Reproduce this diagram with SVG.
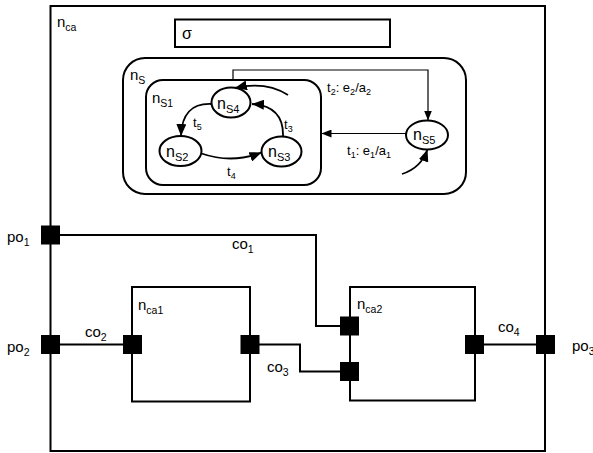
<svg xmlns="http://www.w3.org/2000/svg" width="593" height="453" viewBox="0 0 593 453">
<defs>
<style>
text{font-family:"Liberation Sans",Arial,sans-serif;font-size:15px;fill:#000}
.s{font-size:10.5px}
.sn{font-size:16px}
.sn .s{font-size:11px}
.tl{font-size:13px}
.tl .s{font-size:9px}
.box{fill:none;stroke:#000;stroke-width:2}
.st{fill:#fff;stroke:#000;stroke-width:2}
.port{fill:#000}
.con{fill:none;stroke:#000;stroke-width:2}
.thin{fill:none;stroke:#000;stroke-width:1.2}
.arc{fill:none;stroke:#000;stroke-width:1.8}
</style>
<marker id="ah" viewBox="0 0 12 10" refX="12" refY="5" markerWidth="12" markerHeight="10" markerUnits="userSpaceOnUse" orient="auto">
<path d="M0,0 L12,5 L0,10 Z" fill="#000"/>
</marker>
<marker id="ahs" viewBox="0 0 10 8" refX="10" refY="4" markerWidth="10" markerHeight="8" markerUnits="userSpaceOnUse" orient="auto">
<path d="M0,0 L10,4 L0,8 Z" fill="#000"/>
</marker>
</defs>

<g id="nca">
<rect class="box" x="50.5" y="6" width="494.5" height="445"/>
<text x="57" y="27">n<tspan class="s" dy="4">ca</tspan></text>
</g>

<g id="sigma">
<rect class="box" x="175" y="19.5" width="215" height="27.5"/>
<text x="182" y="39" style="font-size:16px">σ</text>
</g>

<g id="nS">
<rect class="box" x="123" y="58" width="343" height="136" rx="22" ry="22"/>
<text x="130" y="80">n<tspan class="s" dy="4">S</tspan></text>
</g>

<g id="nS1">
<rect class="box" x="146" y="80" width="175" height="105" rx="17" ry="17"/>
<text x="152" y="103">n<tspan class="s" dy="4">S1</tspan></text>
</g>

<g id="nS4">
<ellipse class="st" cx="231" cy="102.5" rx="19.5" ry="15"/>
<text class="sn" x="217" y="109">n<tspan class="s" dy="4">S4</tspan></text>
</g>
<g id="nS2">
<ellipse class="st" cx="180.5" cy="151" rx="21" ry="15"/>
<text class="sn" x="166" y="156.5">n<tspan class="s" dy="4.5">S2</tspan></text>
</g>
<g id="nS3">
<ellipse class="st" cx="281.5" cy="151.5" rx="20" ry="15"/>
<text class="sn" x="268" y="156.5">n<tspan class="s" dy="4.5">S3</tspan></text>
</g>
<g id="nS5">
<ellipse class="st" cx="427" cy="135" rx="21" ry="14.5"/>
<text class="sn" x="413" y="139.5">n<tspan class="s" dy="4.5">S5</tspan></text>
</g>

<g id="nca1">
<rect class="box" x="132" y="287" width="118" height="114.5"/>
<text x="138" y="310">n<tspan class="s" dy="4">ca1</tspan></text>
<rect class="port" x="123" y="335" width="19" height="19"/>
<rect class="port" x="240.5" y="335" width="19" height="19"/>
</g>

<g id="nca2">
<rect class="box" x="350" y="287" width="125" height="113.5"/>
<text x="357" y="309">n<tspan class="s" dy="4">ca2</tspan></text>
<rect class="port" x="340" y="316.5" width="19" height="19"/>
<rect class="port" x="340" y="362" width="19" height="19"/>
<rect class="port" x="465" y="335" width="19" height="19"/>
</g>

<g id="po1">
<rect class="port" x="41" y="225.5" width="19" height="19"/>
<text x="7" y="242">po<tspan class="s" dy="4">1</tspan></text>
</g>
<g id="po2">
<rect class="port" x="41" y="335" width="19" height="19"/>
<text x="7" y="352">po<tspan class="s" dy="4">2</tspan></text>
</g>
<g id="po3">
<rect class="port" x="536" y="335" width="19" height="19"/>
<text x="572" y="351">po<tspan class="s" dy="4">3</tspan></text>
</g>

<g id="connectors">
<path class="thin" d="M233,80 V70 H428 V120.5" marker-end="url(#ahs)"/>
<path class="thin" d="M406,133.5 H321.5" marker-end="url(#ahs)"/>
<path class="arc" d="M402,174 Q421,168 427.5,149.5" marker-end="url(#ah)"/>
<path class="arc" d="M288,95 Q266,81 235,88" marker-end="url(#ah)"/>
<path class="arc" d="M211,104 Q182,103 181,136" marker-end="url(#ah)"/>
<path class="arc" d="M283,136.5 Q284,106 252,104" marker-end="url(#ah)"/>
<path class="arc" d="M201.5,153.5 Q232,164 261.5,152.5" marker-end="url(#ah)"/>
<path class="con" d="M60,235 H316 V326 H340"/>
<path class="con" d="M60,344.5 H123"/>
<path class="con" d="M259,344.5 H300 V371.5 H340"/>
<path class="con" d="M484,344.5 H536"/>
<text class="tl" x="327" y="92">t<tspan class="s" dy="3">2</tspan><tspan dy="-3">: e</tspan><tspan class="s" dy="3">2</tspan><tspan dy="-3">/a</tspan><tspan class="s" dy="3">2</tspan></text>
<text class="tl" x="347" y="155">t<tspan class="s" dy="3">1</tspan><tspan dy="-3">: e</tspan><tspan class="s" dy="3">1</tspan><tspan dy="-3">/a</tspan><tspan class="s" dy="3">1</tspan></text>
<text class="tl" x="193" y="127">t<tspan class="s" dy="3">5</tspan></text>
<text class="tl" x="284" y="129">t<tspan class="s" dy="3">3</tspan></text>
<text class="tl" x="227" y="176">t<tspan class="s" dy="3">4</tspan></text>
<text x="232" y="249">co<tspan class="s" dy="4">1</tspan></text>
<text x="85" y="337">co<tspan class="s" dy="4">2</tspan></text>
<text x="267" y="372">co<tspan class="s" dy="4">3</tspan></text>
<text x="498" y="332">co<tspan class="s" dy="4">4</tspan></text>
</g>
</svg>
